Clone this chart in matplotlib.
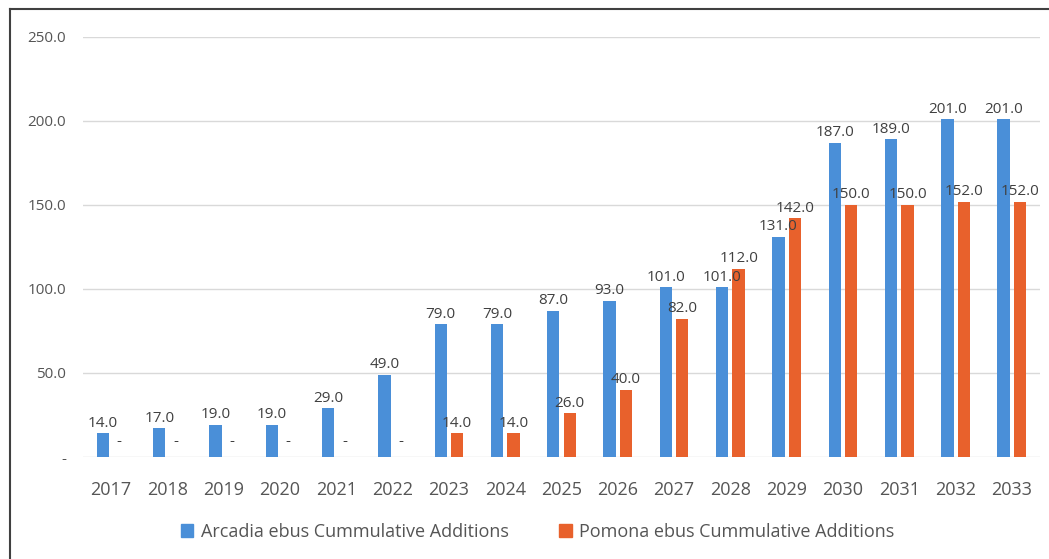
import numpy as np
import matplotlib.pyplot as plt
from matplotlib.patches import Patch
from matplotlib.lines import Line2D

plt.rcParams['font.family'] = ['Open Sans', 'DejaVu Sans']

# data
years = ["2017", "2018", "2019", "2020", "2021", "2022", "2023", "2024", "2025",
         "2026", "2027", "2028", "2029", "2030", "2031", "2032", "2033"]
arcadia = [14, 17, 19, 19, 29, 49, 79, 79, 87, 93, 101, 101, 131, 187, 189, 201, 201]
pomona = [0, 0, 0, 0, 0, 0, 14, 14, 26, 40, 82, 112, 142, 150, 150, 152, 152]
series_names = ["Arcadia ebus Cummulative Additions", "Pomona ebus Cummulative Additions"]
yticks = [0, 50, 100, 150, 200, 250]

blue = "#4a8fd8"
orange = "#e8612c"
grey_txt = "#555555"

W, H = 1049, 559
fig = plt.figure(figsize=(W / 100, H / 100), dpi=100)
ax = fig.add_axes([83 / W, 1 - 457 / H, 957 / W, 420 / H])

x = np.arange(len(years))
bw = 0.22
off = 0.146
b1 = ax.bar(x - off, arcadia, bw, color=blue, zorder=3)
b2 = ax.bar(x + off, pomona, bw, color=orange, zorder=3)


def fmt(v):
    return "-" if v == 0 else f"{v:.1f}"


for bars, vals in [(b1, arcadia), (b2, pomona)]:
    for r, v in zip(bars, vals):
        # Excel puts the "-" of a zero value a bit higher
        dy = 6 if v == 0 else 2
        ax.annotate(fmt(v), (r.get_x() + r.get_width() / 2, v),
                    xytext=(0, dy), textcoords="offset points",
                    ha="center", va="bottom", fontsize=11, color="#404040", zorder=4)

ax.set_xlim(-0.5, len(years) - 0.5)
ax.set_ylim(0, 250)
ax.set_yticks(yticks)
ax.set_yticklabels([fmt(v) for v in yticks])
ax.set_xticks(x)
ax.set_xticklabels(years)
ax.tick_params(axis="y", length=0, pad=12, labelsize=11, labelcolor=grey_txt)
ax.tick_params(axis="x", length=0, pad=17, labelsize=13, labelcolor=grey_txt)
ax.grid(axis="y", color="#d9d9d9", linewidth=1, zorder=0)
for s in ax.spines.values():
    s.set_visible(False)

handles = [Patch(color=blue), Patch(color=orange)]
fig.legend(handles, series_names, loc="center", bbox_to_anchor=(537.5 / W, 1 - 532 / H),
           ncol=2, frameon=False, fontsize=13, labelcolor=grey_txt,
           handlelength=0.7, handleheight=0.7, handletextpad=0.4, columnspacing=2.8)

# outer frame (top and left edges visible)
fig.add_artist(Line2D([10 / W, 1], [1 - 9 / H, 1 - 9 / H], color="#404040", lw=1.5))
fig.add_artist(Line2D([10 / W, 10 / W], [0, 1 - 9 / H], color="#404040", lw=1.5))

fig.savefig("out.png", dpi=100)
